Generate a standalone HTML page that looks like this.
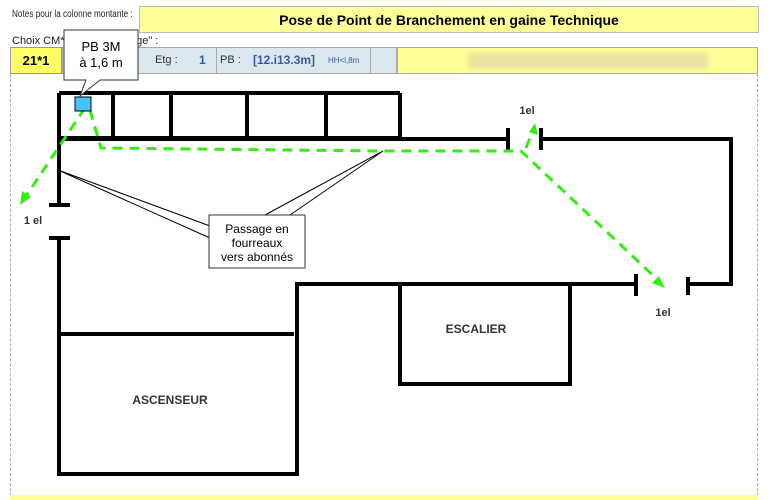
<!DOCTYPE html>
<html><head><meta charset="utf-8"><style>
body{margin:0;width:768px;height:500px;background:#fff;overflow:hidden;font-family:"Liberation Sans",sans-serif;position:relative}
.a{position:absolute}
</style></head><body>
<div class="a" style="left:12px;top:9px;font-size:10px;color:#222;transform:scaleX(0.82);transform-origin:0 0;white-space:nowrap">Notes pour la colonne montante :</div>
<div class="a" style="left:139px;top:6px;width:620px;height:27px;background:#ffff99;border:1px solid #bbb;box-sizing:border-box;text-align:center;font-weight:bold;font-size:14px;line-height:26px">Pose de Point de Branchement en gaine Technique</div>
<div class="a" style="left:12px;top:35px;font-size:11px;color:#222;white-space:nowrap">Choix CM*E &nbsp; &nbsp; &nbsp; &nbsp; &nbsp; &nbsp; &nbsp; &nbsp; &nbsp;tage" :</div>
<div class="a" style="left:10px;top:47px;width:52px;height:27px;background:#ffff66;border:1px solid #999;box-sizing:border-box;text-align:center;font-weight:bold;font-size:13px;line-height:25px">21*1</div>
<div class="a" style="left:62px;top:47px;width:335px;height:27px;background:#dbe8f0;border:1px solid #aaa;box-sizing:border-box"></div>
<div class="a" style="left:137px;top:47px;width:1px;height:27px;background:#aaa"></div>
<div class="a" style="left:216px;top:47px;width:1px;height:27px;background:#aaa"></div>
<div class="a" style="left:370px;top:47px;width:1px;height:27px;background:#aaa"></div>
<div class="a" style="left:155px;top:54px;font-size:11px;color:#333">Etg :</div>
<div class="a" style="left:199px;top:53px;font-size:12px;color:#3a5a9a;font-weight:bold">1</div>
<div class="a" style="left:220px;top:54px;font-size:11px;color:#333">PB :</div>
<div class="a" style="left:253px;top:53px;font-size:12px;color:#3a5a9a;font-weight:bold">[12.i13.3m]</div>
<div class="a" style="left:328px;top:56px;font-size:8px;color:#3a5a9a">HH&lt;l,8m</div>
<div class="a" style="left:397px;top:47px;width:361px;height:27px;background:#ffff99;border:1px solid #aaa;box-sizing:border-box"></div>
<div class="a" style="left:468px;top:53px;width:240px;height:16px;background:#e8e3a0;filter:blur(3px)"></div>
<div class="a" style="left:10px;top:74px;width:748px;height:422px;border:1px dashed #aaa;border-top:none;box-sizing:border-box"></div>
<div class="a" style="left:10px;top:495px;width:748px;height:5px;background:#ffff99"></div>
<svg class="a" style="left:0;top:0" width="768" height="500">
<g stroke="#000" stroke-width="4" fill="none">
<path d="M59 93H400M59 138H400M59 93V205M59 238V474H297V284H636M113 93V138M171 93V138M247 93V138M326 93V138M400 93V138M59 334H294M59 139H508M541 139H731V284H688M400 284V384H570V284"/>
<path d="M49 205H70M49 238H70M508 128V150M541 128V150M636 274V296M688 277V295"/>
</g>
<g stroke="#33ee11" stroke-width="3" fill="none" stroke-dasharray="10,7">
<path d="M85 108L26 196M90 110L101 148L380 151L521 151L660 282M526 148L533 130"/>
</g>
<g fill="#33ee11"><path d="M20 205L22 191L31 197Z"/><path d="M535 123L538 135L529 132Z"/><path d="M665 288L652 283L659 276Z"/></g>
<g stroke="#000" stroke-width="1" fill="none"><path d="M58 170L210 226M58 170L210 238M383 151L265 215M383 151L290 215"/></g>
<rect x="75" y="97" width="16" height="14" fill="#44c4ff" stroke="#000" stroke-width="1"/>
<path d="M64 30H138V80H100L80 96L86 80H64Z" fill="#fff" stroke="#333" stroke-width="1"/>
<rect x="209" y="215" width="96" height="53" fill="#fff" stroke="#333" stroke-width="1"/>
<g font-family="Liberation Sans,sans-serif" text-anchor="middle">
<text x="101" y="51" font-size="13">PB 3M</text><text x="101" y="67" font-size="13">à 1,6 m</text>
<text x="257" y="233" font-size="12">Passage en</text><text x="257" y="247" font-size="12">fourreaux</text><text x="257" y="261" font-size="12">vers abonnés</text>
<g font-weight="bold" font-size="11" fill="#333"><text x="33" y="224">1 el</text><text x="527" y="114">1el</text><text x="663" y="316">1el</text></g>
<g font-weight="bold" font-size="12" fill="#333"><text x="476" y="333">ESCALIER</text><text x="170" y="404">ASCENSEUR</text></g>
</g>
</svg>
</body></html>
